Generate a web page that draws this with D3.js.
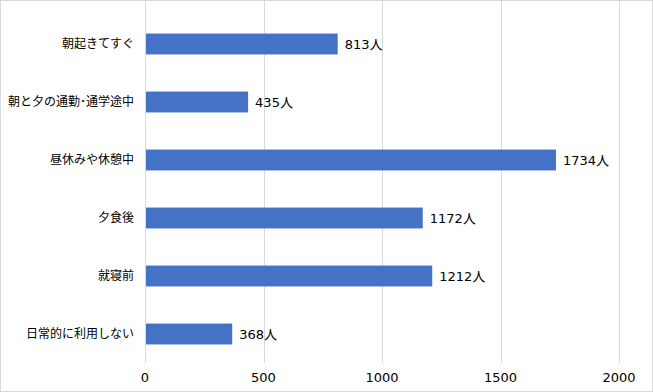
<!DOCTYPE html>
<html>
<head>
<meta charset="utf-8">
<script src="https://cdn.jsdelivr.net/npm/d3@7"></script>
<style>
  body { margin: 0; background: #fff; }
  svg { display: block; font-family: "Noto Sans CJK JP", "Noto Sans", sans-serif; }
  .num { font-family: "DejaVu Sans", "Noto Sans CJK JP", sans-serif; }
</style>
</head>
<body>
<svg id="chart" width="653" height="392"></svg>
<script>
// categories top to bottom, and the number of people for each
const categories = ["朝起きてすぐ", "朝と夕の通勤･通学途中", "昼休みや休憩中", "夕食後", "就寝前", "日常的に利用しない"];
const counts = [813, 435, 1734, 1172, 1212, 368];
const xTicks = [0, 500, 1000, 1500, 2000];

const W = 653, H = 392;
const margin = { top: 15, right: 34, bottom: 29, left: 145 };

const svg = d3.select("#chart");

// outer frame
svg.append("rect")
  .attr("x", 0.5).attr("y", 0.5)
  .attr("width", W - 1).attr("height", H - 1)
  .attr("fill", "#fff").attr("stroke", "#d9d9d9");

const x = d3.scaleLinear().domain([0, 2000]).range([margin.left, W - margin.right]);
const y = d3.scaleBand().domain(categories).range([margin.top, H - margin.bottom]).paddingInner(0.64).paddingOuter(0.32);

// grid lines
svg.append("g")
  .selectAll("line")
  .data(xTicks)
  .join("line")
  .attr("x1", d => Math.round(x(d)) + 0.5).attr("x2", d => Math.round(x(d)) + 0.5)
  .attr("y1", margin.top - 15).attr("y2", H - margin.bottom)
  .attr("stroke", "#d9d9d9");

// x tick labels
svg.append("g")
  .selectAll("text")
  .data(xTicks)
  .join("text")
  .attr("class", "num")
  .attr("x", d => x(d))
  .attr("y", H - 10)
  .attr("text-anchor", "middle")
  .attr("font-size", 13)
  .attr("fill", "#000")
  .text(d => d);

// bars
svg.append("g")
  .selectAll("rect")
  .data(counts)
  .join("rect")
  .attr("x", x(0) + 1)
  .attr("y", (d, i) => y(categories[i]))
  .attr("width", d => x(d) - x(0) - 1)
  .attr("height", y.bandwidth())
  .attr("fill", "#4472c4");

// value labels
svg.append("g")
  .selectAll("text")
  .data(counts)
  .join("text")
  .attr("class", "num")
  .attr("x", d => x(d) + 7)
  .attr("y", (d, i) => y(categories[i]) + y.bandwidth() / 2)
  .attr("dy", "0.36em")
  .attr("font-size", 13)
  .attr("fill", "#000")
  .text(d => d + "人");

// category labels
svg.append("g")
  .selectAll("text")
  .data(categories)
  .join("text")
  .attr("x", margin.left - 11)
  .attr("y", d => y(d) + y.bandwidth() / 2)
  .attr("dy", "0.36em")
  .attr("text-anchor", "end")
  .attr("font-size", 12)
  .attr("fill", "#000")
  .text(d => d);
</script>
</body>
</html>
